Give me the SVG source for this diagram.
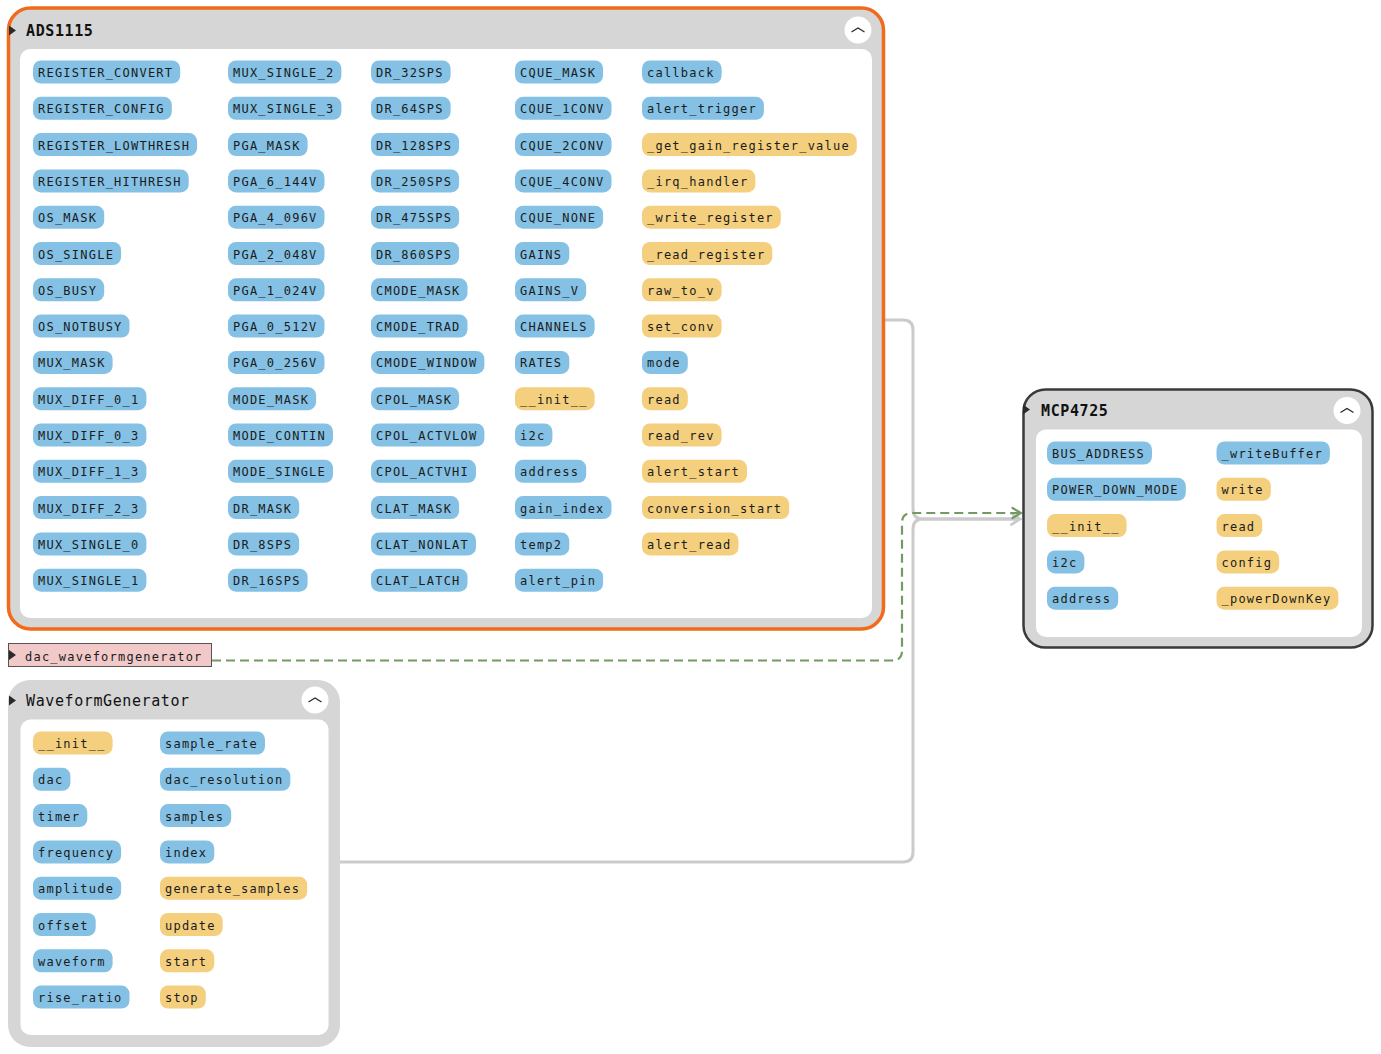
<svg xmlns="http://www.w3.org/2000/svg" width="1381" height="1054" viewBox="0 0 1381 1054">
<style>
  .frame { fill: #d6d6d6; }
  .body { fill: #ffffff; }
  .title { font-family: "DejaVu Sans Mono", "Liberation Mono", monospace; font-size: 15px; letter-spacing: 0.6px; fill: #111; }
  .bold { font-weight: bold; }
  .pb { fill: #84c1e4; }
  .py { fill: #f3cf7e; }
  .t { font-family: "DejaVu Sans Mono", "Liberation Mono", monospace; font-size: 12px; letter-spacing: 1.23px; fill: #1b1b1b; transform: translate(0px, 1px); }
  .btn { fill: #ffffff; }
  .chev { fill: none; stroke: #2a2a2a; stroke-width: 1.3; }
  .tri { fill: #2a2a2a; }
  .link { fill: none; stroke: #cbcbcb; stroke-width: 3; }
  .ref { fill: none; stroke: #739a64; stroke-width: 2.2; stroke-dasharray: 9 5; }
</style>
<defs>
  <marker id="arrGray" viewBox="0 0 12 14" refX="10" refY="7" markerWidth="12" markerHeight="14" markerUnits="userSpaceOnUse" orient="auto">
    <path d="M1.5,1.5 L10,7 L1.5,12.5" fill="none" stroke="#cbcbcb" stroke-width="2.5" stroke-linecap="round"/>
  </marker>
  <marker id="arrGreen" viewBox="0 0 12 14" refX="10" refY="7" markerWidth="12" markerHeight="14" markerUnits="userSpaceOnUse" orient="auto">
    <path d="M1.5,2 L10,7 L1.5,12" fill="none" stroke="#739a64" stroke-width="2.2" stroke-linecap="round"/>
  </marker>
</defs>

<!-- connectors -->
<g id="connectors">
  <path class="link" d="M884,320 H903 Q913,320 913,330 V509 Q913,519 923,519 H1020" marker-end="url(#arrGray)"/>
  <path class="link" d="M340,862 H903 Q913,862 913,852 V529 Q913,519 923,519 H1020" marker-end="url(#arrGray)"/>
  <path class="ref" d="M212,660.5 H892 Q902,660.5 902,650.5 V523 Q902,513 912,513 H1021" marker-end="url(#arrGreen)"/>
</g>

<!-- ADS1115 class -->
<g id="ADS1115">
  <rect class="frame" x="8.5" y="8" width="875" height="621" rx="22" stroke="#f26a1b" stroke-width="3.5"/>
  <rect class="body" x="20" y="49" width="852" height="569" rx="10"/>
  <path class="tri" d="M9,25.5 L16,30.5 L9,35.5 Z"/>
  <text class="title bold" x="26" y="35.5">ADS1115</text>
  <circle class="btn" cx="858" cy="30" r="13.5"/>
  <path class="chev" d="M851.5,32 L858,28 L864.5,32"/>

  <!-- column 1 -->
  <rect class="pb" x="33" y="60.5" width="147.2" height="23" rx="8"/><text class="t" x="38" y="76">REGISTER_CONVERT</text>
  <rect class="pb" x="33" y="96.8" width="138.8" height="23" rx="8"/><text class="t" x="38" y="112.3">REGISTER_CONFIG</text>
  <rect class="pb" x="33" y="133.1" width="164.1" height="23" rx="8"/><text class="t" x="38" y="148.6">REGISTER_LOWTHRESH</text>
  <rect class="pb" x="33" y="169.4" width="155.7" height="23" rx="8"/><text class="t" x="38" y="184.9">REGISTER_HITHRESH</text>
  <rect class="pb" x="33" y="205.7" width="71.2" height="23" rx="8"/><text class="t" x="38" y="221.2">OS_MASK</text>
  <rect class="pb" x="33" y="242" width="88.1" height="23" rx="8"/><text class="t" x="38" y="257.5">OS_SINGLE</text>
  <rect class="pb" x="33" y="278.3" width="71.2" height="23" rx="8"/><text class="t" x="38" y="293.8">OS_BUSY</text>
  <rect class="pb" x="33" y="314.6" width="96.5" height="23" rx="8"/><text class="t" x="38" y="330.1">OS_NOTBUSY</text>
  <rect class="pb" x="33" y="350.9" width="79.6" height="23" rx="8"/><text class="t" x="38" y="366.4">MUX_MASK</text>
  <rect class="pb" x="33" y="387.2" width="113.4" height="23" rx="8"/><text class="t" x="38" y="402.7">MUX_DIFF_0_1</text>
  <rect class="pb" x="33" y="423.5" width="113.4" height="23" rx="8"/><text class="t" x="38" y="439">MUX_DIFF_0_3</text>
  <rect class="pb" x="33" y="459.8" width="113.4" height="23" rx="8"/><text class="t" x="38" y="475.3">MUX_DIFF_1_3</text>
  <rect class="pb" x="33" y="496.1" width="113.4" height="23" rx="8"/><text class="t" x="38" y="511.6">MUX_DIFF_2_3</text>
  <rect class="pb" x="33" y="532.4" width="113.4" height="23" rx="8"/><text class="t" x="38" y="547.9">MUX_SINGLE_0</text>
  <rect class="pb" x="33" y="568.7" width="113.4" height="23" rx="8"/><text class="t" x="38" y="584.2">MUX_SINGLE_1</text>

  <!-- column 2 -->
  <rect class="pb" x="228" y="60.5" width="113.4" height="23" rx="8"/><text class="t" x="233" y="76">MUX_SINGLE_2</text>
  <rect class="pb" x="228" y="96.8" width="113.4" height="23" rx="8"/><text class="t" x="233" y="112.3">MUX_SINGLE_3</text>
  <rect class="pb" x="228" y="133.1" width="79.6" height="23" rx="8"/><text class="t" x="233" y="148.6">PGA_MASK</text>
  <rect class="pb" x="228" y="169.4" width="96.5" height="23" rx="8"/><text class="t" x="233" y="184.9">PGA_6_144V</text>
  <rect class="pb" x="228" y="205.7" width="96.5" height="23" rx="8"/><text class="t" x="233" y="221.2">PGA_4_096V</text>
  <rect class="pb" x="228" y="242" width="96.5" height="23" rx="8"/><text class="t" x="233" y="257.5">PGA_2_048V</text>
  <rect class="pb" x="228" y="278.3" width="96.5" height="23" rx="8"/><text class="t" x="233" y="293.8">PGA_1_024V</text>
  <rect class="pb" x="228" y="314.6" width="96.5" height="23" rx="8"/><text class="t" x="233" y="330.1">PGA_0_512V</text>
  <rect class="pb" x="228" y="350.9" width="96.5" height="23" rx="8"/><text class="t" x="233" y="366.4">PGA_0_256V</text>
  <rect class="pb" x="228" y="387.2" width="88.1" height="23" rx="8"/><text class="t" x="233" y="402.7">MODE_MASK</text>
  <rect class="pb" x="228" y="423.5" width="105" height="23" rx="8"/><text class="t" x="233" y="439">MODE_CONTIN</text>
  <rect class="pb" x="228" y="459.8" width="105" height="23" rx="8"/><text class="t" x="233" y="475.3">MODE_SINGLE</text>
  <rect class="pb" x="228" y="496.1" width="71.2" height="23" rx="8"/><text class="t" x="233" y="511.6">DR_MASK</text>
  <rect class="pb" x="228" y="532.4" width="71.2" height="23" rx="8"/><text class="t" x="233" y="547.9">DR_8SPS</text>
  <rect class="pb" x="228" y="568.7" width="79.6" height="23" rx="8"/><text class="t" x="233" y="584.2">DR_16SPS</text>

  <!-- column 3 -->
  <rect class="pb" x="371" y="60.5" width="79.6" height="23" rx="8"/><text class="t" x="376" y="76">DR_32SPS</text>
  <rect class="pb" x="371" y="96.8" width="79.6" height="23" rx="8"/><text class="t" x="376" y="112.3">DR_64SPS</text>
  <rect class="pb" x="371" y="133.1" width="88.1" height="23" rx="8"/><text class="t" x="376" y="148.6">DR_128SPS</text>
  <rect class="pb" x="371" y="169.4" width="88.1" height="23" rx="8"/><text class="t" x="376" y="184.9">DR_250SPS</text>
  <rect class="pb" x="371" y="205.7" width="88.1" height="23" rx="8"/><text class="t" x="376" y="221.2">DR_475SPS</text>
  <rect class="pb" x="371" y="242" width="88.1" height="23" rx="8"/><text class="t" x="376" y="257.5">DR_860SPS</text>
  <rect class="pb" x="371" y="278.3" width="96.5" height="23" rx="8"/><text class="t" x="376" y="293.8">CMODE_MASK</text>
  <rect class="pb" x="371" y="314.6" width="96.5" height="23" rx="8"/><text class="t" x="376" y="330.1">CMODE_TRAD</text>
  <rect class="pb" x="371" y="350.9" width="113.4" height="23" rx="8"/><text class="t" x="376" y="366.4">CMODE_WINDOW</text>
  <rect class="pb" x="371" y="387.2" width="88.1" height="23" rx="8"/><text class="t" x="376" y="402.7">CPOL_MASK</text>
  <rect class="pb" x="371" y="423.5" width="113.4" height="23" rx="8"/><text class="t" x="376" y="439">CPOL_ACTVLOW</text>
  <rect class="pb" x="371" y="459.8" width="105" height="23" rx="8"/><text class="t" x="376" y="475.3">CPOL_ACTVHI</text>
  <rect class="pb" x="371" y="496.1" width="88.1" height="23" rx="8"/><text class="t" x="376" y="511.6">CLAT_MASK</text>
  <rect class="pb" x="371" y="532.4" width="105" height="23" rx="8"/><text class="t" x="376" y="547.9">CLAT_NONLAT</text>
  <rect class="pb" x="371" y="568.7" width="96.5" height="23" rx="8"/><text class="t" x="376" y="584.2">CLAT_LATCH</text>

  <!-- column 4 -->
  <rect class="pb" x="515" y="60.5" width="88.1" height="23" rx="8"/><text class="t" x="520" y="76">CQUE_MASK</text>
  <rect class="pb" x="515" y="96.8" width="96.5" height="23" rx="8"/><text class="t" x="520" y="112.3">CQUE_1CONV</text>
  <rect class="pb" x="515" y="133.1" width="96.5" height="23" rx="8"/><text class="t" x="520" y="148.6">CQUE_2CONV</text>
  <rect class="pb" x="515" y="169.4" width="96.5" height="23" rx="8"/><text class="t" x="520" y="184.9">CQUE_4CONV</text>
  <rect class="pb" x="515" y="205.7" width="88.1" height="23" rx="8"/><text class="t" x="520" y="221.2">CQUE_NONE</text>
  <rect class="pb" x="515" y="242" width="54.3" height="23" rx="8"/><text class="t" x="520" y="257.5">GAINS</text>
  <rect class="pb" x="515" y="278.3" width="71.2" height="23" rx="8"/><text class="t" x="520" y="293.8">GAINS_V</text>
  <rect class="pb" x="515" y="314.6" width="79.6" height="23" rx="8"/><text class="t" x="520" y="330.1">CHANNELS</text>
  <rect class="pb" x="515" y="350.9" width="54.3" height="23" rx="8"/><text class="t" x="520" y="366.4">RATES</text>
  <rect class="py" x="515" y="387.2" width="79.6" height="23" rx="8"/><text class="t" x="520" y="402.7">__init__</text>
  <rect class="pb" x="515" y="423.5" width="37.4" height="23" rx="8"/><text class="t" x="520" y="439">i2c</text>
  <rect class="pb" x="515" y="459.8" width="71.2" height="23" rx="8"/><text class="t" x="520" y="475.3">address</text>
  <rect class="pb" x="515" y="496.1" width="96.5" height="23" rx="8"/><text class="t" x="520" y="511.6">gain_index</text>
  <rect class="pb" x="515" y="532.4" width="54.3" height="23" rx="8"/><text class="t" x="520" y="547.9">temp2</text>
  <rect class="pb" x="515" y="568.7" width="88.1" height="23" rx="8"/><text class="t" x="520" y="584.2">alert_pin</text>

  <!-- column 5 -->
  <rect class="pb" x="642" y="60.5" width="79.6" height="23" rx="8"/><text class="t" x="647" y="76">callback</text>
  <rect class="pb" x="642" y="96.8" width="121.9" height="23" rx="8"/><text class="t" x="647" y="112.3">alert_trigger</text>
  <rect class="py" x="642" y="133.1" width="214.8" height="23" rx="8"/><text class="t" x="647" y="148.6">_get_gain_register_value</text>
  <rect class="py" x="642" y="169.4" width="113.4" height="23" rx="8"/><text class="t" x="647" y="184.9">_irq_handler</text>
  <rect class="py" x="642" y="205.7" width="138.8" height="23" rx="8"/><text class="t" x="647" y="221.2">_write_register</text>
  <rect class="py" x="642" y="242" width="130.3" height="23" rx="8"/><text class="t" x="647" y="257.5">_read_register</text>
  <rect class="py" x="642" y="278.3" width="79.6" height="23" rx="8"/><text class="t" x="647" y="293.8">raw_to_v</text>
  <rect class="py" x="642" y="314.6" width="79.6" height="23" rx="8"/><text class="t" x="647" y="330.1">set_conv</text>
  <rect class="pb" x="642" y="350.9" width="45.8" height="23" rx="8"/><text class="t" x="647" y="366.4">mode</text>
  <rect class="py" x="642" y="387.2" width="45.8" height="23" rx="8"/><text class="t" x="647" y="402.7">read</text>
  <rect class="py" x="642" y="423.5" width="79.6" height="23" rx="8"/><text class="t" x="647" y="439">read_rev</text>
  <rect class="py" x="642" y="459.8" width="105" height="23" rx="8"/><text class="t" x="647" y="475.3">alert_start</text>
  <rect class="py" x="642" y="496.1" width="147.2" height="23" rx="8"/><text class="t" x="647" y="511.6">conversion_start</text>
  <rect class="py" x="642" y="532.4" width="96.5" height="23" rx="8"/><text class="t" x="647" y="547.9">alert_read</text>
</g>

<!-- MCP4725 class -->
<g id="MCP4725">
  <rect class="frame" x="1023.5" y="389.5" width="349" height="258" rx="22" stroke="#3a3a3a" stroke-width="2.5"/>
  <rect class="body" x="1036" y="429.5" width="326" height="207.5" rx="10"/>
  <path class="tri" d="M1023,404.5 L1030,409.5 L1023,414.5 Z"/>
  <text class="title bold" x="1041" y="416">MCP4725</text>
  <circle class="btn" cx="1347" cy="410.5" r="13.5"/>
  <path class="chev" d="M1340.5,412.5 L1347,408.5 L1353.5,412.5"/>

  <rect class="pb" x="1047" y="441.5" width="105" height="23" rx="8"/><text class="t" x="1052" y="457">BUS_ADDRESS</text>
  <rect class="pb" x="1047" y="477.8" width="138.8" height="23" rx="8"/><text class="t" x="1052" y="493.3">POWER_DOWN_MODE</text>
  <rect class="py" x="1047" y="514.1" width="79.6" height="23" rx="8"/><text class="t" x="1052" y="529.6">__init__</text>
  <rect class="pb" x="1047" y="550.4" width="37.4" height="23" rx="8"/><text class="t" x="1052" y="565.9">i2c</text>
  <rect class="pb" x="1047" y="586.7" width="71.2" height="23" rx="8"/><text class="t" x="1052" y="602.2">address</text>

  <rect class="pb" x="1216.5" y="441.5" width="113.4" height="23" rx="8"/><text class="t" x="1221.5" y="457">_writeBuffer</text>
  <rect class="py" x="1216.5" y="477.8" width="54.3" height="23" rx="8"/><text class="t" x="1221.5" y="493.3">write</text>
  <rect class="py" x="1216.5" y="514.1" width="45.8" height="23" rx="8"/><text class="t" x="1221.5" y="529.6">read</text>
  <rect class="py" x="1216.5" y="550.4" width="62.7" height="23" rx="8"/><text class="t" x="1221.5" y="565.9">config</text>
  <rect class="py" x="1216.5" y="586.7" width="121.9" height="23" rx="8"/><text class="t" x="1221.5" y="602.2">_powerDownKey</text>
</g>

<!-- module-level variable -->
<g id="dac_waveformgenerator">
  <rect x="8.5" y="643.5" width="203" height="23" fill="#f1c9c9" stroke="#555555" stroke-width="1"/>
  <path class="tri" d="M9,650 L16,655 L9,660 Z"/>
  <text class="t" x="25" y="659.5">dac_waveformgenerator</text>
</g>

<!-- WaveformGenerator class -->
<g id="WaveformGenerator">
  <rect class="frame" x="8" y="680" width="332" height="367" rx="22"/>
  <rect class="body" x="20.5" y="719.5" width="308" height="315.5" rx="10"/>
  <path class="tri" d="M9,695.5 L16,700.5 L9,705.5 Z"/>
  <text class="title" x="26" y="706">WaveformGenerator</text>
  <circle class="btn" cx="315" cy="700" r="13.5"/>
  <path class="chev" d="M308.5,702 L315,698 L321.5,702"/>

  <rect class="py" x="33" y="731.5" width="79.6" height="23" rx="8"/><text class="t" x="38" y="747">__init__</text>
  <rect class="pb" x="33" y="767.8" width="37.4" height="23" rx="8"/><text class="t" x="38" y="783.3">dac</text>
  <rect class="pb" x="33" y="804.1" width="54.3" height="23" rx="8"/><text class="t" x="38" y="819.6">timer</text>
  <rect class="pb" x="33" y="840.4" width="88.1" height="23" rx="8"/><text class="t" x="38" y="855.9">frequency</text>
  <rect class="pb" x="33" y="876.7" width="88.1" height="23" rx="8"/><text class="t" x="38" y="892.2">amplitude</text>
  <rect class="pb" x="33" y="913" width="62.7" height="23" rx="8"/><text class="t" x="38" y="928.5">offset</text>
  <rect class="pb" x="33" y="949.3" width="79.6" height="23" rx="8"/><text class="t" x="38" y="964.8">waveform</text>
  <rect class="pb" x="33" y="985.6" width="96.5" height="23" rx="8"/><text class="t" x="38" y="1001.1">rise_ratio</text>

  <rect class="pb" x="160" y="731.5" width="105" height="23" rx="8"/><text class="t" x="165" y="747">sample_rate</text>
  <rect class="pb" x="160" y="767.8" width="130.3" height="23" rx="8"/><text class="t" x="165" y="783.3">dac_resolution</text>
  <rect class="pb" x="160" y="804.1" width="71.2" height="23" rx="8"/><text class="t" x="165" y="819.6">samples</text>
  <rect class="pb" x="160" y="840.4" width="54.3" height="23" rx="8"/><text class="t" x="165" y="855.9">index</text>
  <rect class="py" x="160" y="876.7" width="147.2" height="23" rx="8"/><text class="t" x="165" y="892.2">generate_samples</text>
  <rect class="py" x="160" y="913" width="62.7" height="23" rx="8"/><text class="t" x="165" y="928.5">update</text>
  <rect class="py" x="160" y="949.3" width="54.3" height="23" rx="8"/><text class="t" x="165" y="964.8">start</text>
  <rect class="py" x="160" y="985.6" width="45.8" height="23" rx="8"/><text class="t" x="165" y="1001.1">stop</text>
</g>
</svg>
